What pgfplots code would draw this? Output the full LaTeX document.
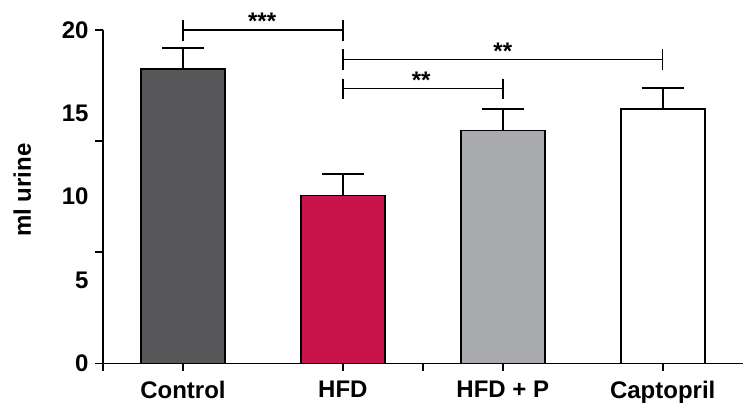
\documentclass[border=0pt]{standalone}
\usepackage{fontspec}
\setmainfont{Liberation Sans}
\usepackage{pgfplots}
\pgfplotsset{compat=1.18}
\definecolor{ctrl}{HTML}{58585B}
\definecolor{hfd}{HTML}{C8144A}
\definecolor{hfdp}{HTML}{A9AAAD}
\newcommand{\bigf}{\fontsize{24bp}{28bp}\selectfont\bfseries}
\begin{document}
\begin{tikzpicture}
\useasboundingbox (-103bp,-46.7bp) rectangle (648bp,363.3bp);
\begin{axis}[
  at={(0,0)}, anchor=south west,
  scale only axis, width=639.7bp, height=333.3bp,
  xmin=-0.5, xmax=3.5, ymin=0, ymax=20,
  axis lines=left, axis line style={-, line width=1.6bp, black},
  clip=false,
  ybar, bar shift=0pt, bar width=0.525,
  xtick={0,1,2,3}, xticklabels={Control,HFD,HFD + P,Captopril},
  ytick={0,5,10,15,20},
  major tick length=0pt, minor tick num=0,
  tick align=outside,
  tick style={line width=1.6bp, black},
  extra x ticks={-0.5,0,1,1.5,2,3}, extra x tick labels={},
  extra y ticks={0,6.6667,13.3333,20}, extra y tick labels={},
  extra tick style={major tick length=7.5bp, tick align=outside},
  /pgf/number format/assume math mode=true,
  tick label style={font=\bigf},
  xticklabel style={yshift=-14bp},
  yticklabel style={xshift=-11bp},
  ylabel={ml urine},
  ylabel style={font=\bigf, at={(axis description cs:-0.126,0.52)}, anchor=center},
]
\addplot[fill=ctrl, draw=black, line width=1.6bp,
  error bars/.cd, y dir=plus, y explicit,
  error bar style={line width=1.6bp, black},
  error mark options={rotate=90, mark size=21bp, line width=1.6bp, black}]
  coordinates {(0,17.66) +- (0,1.26)};
\addplot[fill=hfd, draw=black, line width=1.6bp,
  error bars/.cd, y dir=plus, y explicit,
  error bar style={line width=1.6bp, black},
  error mark options={rotate=90, mark size=21bp, line width=1.6bp, black}]
  coordinates {(1,10.07) +- (0,1.30)};
\addplot[fill=hfdp, draw=black, line width=1.6bp,
  error bars/.cd, y dir=plus, y explicit,
  error bar style={line width=1.6bp, black},
  error mark options={rotate=90, mark size=21bp, line width=1.6bp, black}]
  coordinates {(2,13.97) +- (0,1.29)};
\addplot[fill=white, draw=black, line width=1.6bp,
  error bars/.cd, y dir=plus, y explicit,
  error bar style={line width=1.6bp, black},
  error mark options={rotate=90, mark size=21bp, line width=1.6bp, black}]
  coordinates {(3,15.26) +- (0,1.27)};
% significance brackets
\addplot[sharp plot, black, line width=1.5bp, mark=none, forget plot] coordinates {(0,20.6) (0,19.36)};
\addplot[sharp plot, black, line width=1.5bp, mark=none, forget plot] coordinates {(0,20.0) (1,20.0)};
\addplot[sharp plot, black, line width=1.5bp, mark=none, forget plot] coordinates {(1,20.6) (1,19.36)};
\addplot[sharp plot, black, line width=1.5bp, mark=none, forget plot] coordinates {(1,18.84) (1,17.6)};
\addplot[sharp plot, black, line width=1.5bp, mark=none, forget plot] coordinates {(1,18.24) (3,18.24)};
\addplot[sharp plot, black, line width=1.5bp, mark=none, forget plot] coordinates {(3,18.84) (3,17.6)};
\addplot[sharp plot, black, line width=1.5bp, mark=none, forget plot] coordinates {(1,17.08) (1,15.84)};
\addplot[sharp plot, black, line width=1.5bp, mark=none, forget plot] coordinates {(1,16.48) (2,16.48)};
\addplot[sharp plot, black, line width=1.5bp, mark=none, forget plot] coordinates {(2,17.08) (2,15.84)};
\node[font=\bigf, anchor=base] at (axis cs:0.495,20.0) {***};
\node[font=\bigf, anchor=base] at (axis cs:2.0,18.24) {**};
\node[font=\bigf, anchor=base] at (axis cs:1.49,16.48) {**};
\end{axis}
\end{tikzpicture}
\end{document}
